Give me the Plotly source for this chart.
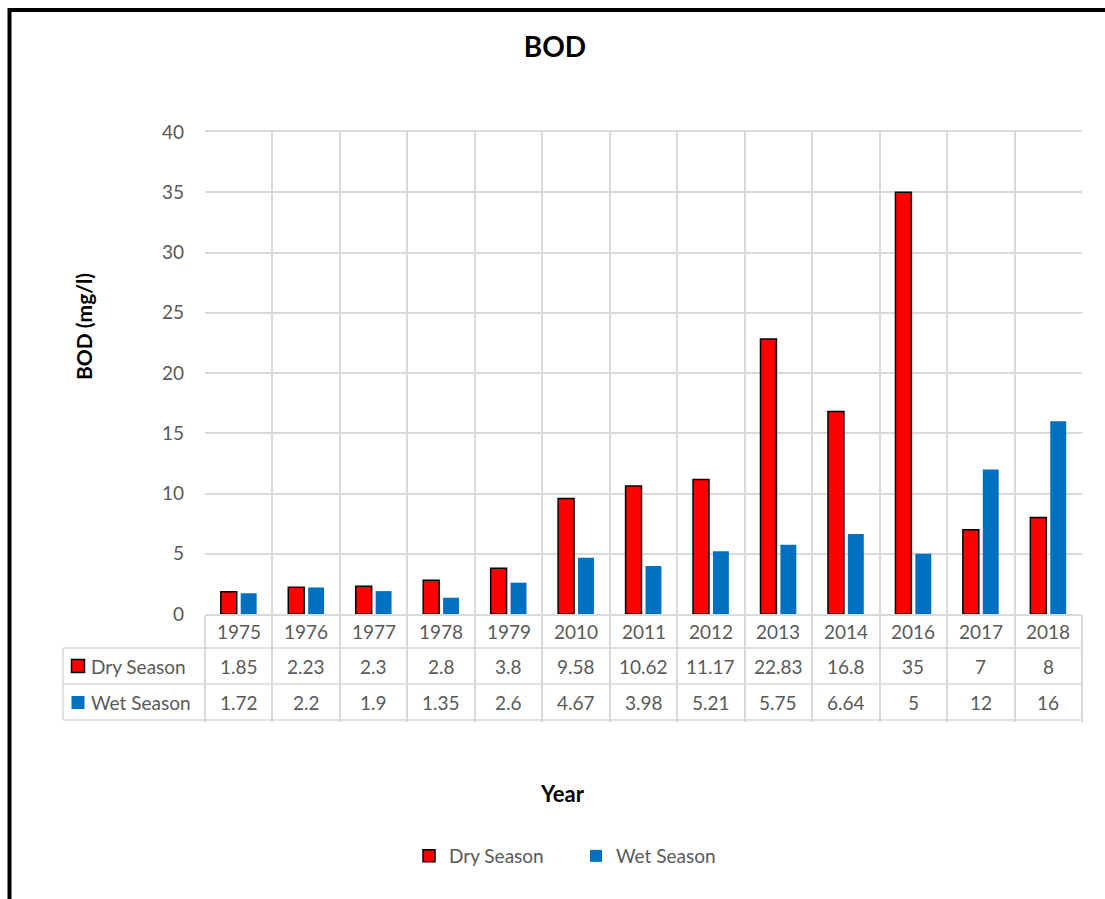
import plotly.graph_objects as go

years = ["1975", "1976", "1977", "1978", "1979", "2010", "2011", "2012", "2013", "2014", "2016", "2017", "2018"]
dry = [1.85, 2.23, 2.3, 2.8, 3.8, 9.58, 10.62, 11.17, 22.83, 16.8, 35, 7, 8]
wet = [1.72, 2.2, 1.9, 1.35, 2.6, 4.67, 3.98, 5.21, 5.75, 6.64, 5, 12, 16]
dry_label = [str(v) for v in dry]
wet_label = [str(v) for v in wet]

W, H = 1105, 899
L, R, T, B = 205, 1082, 132, 614
PW, PH = R - L, B - T

def px(x):
    return (x - L) / PW

def py(y):
    return (B - y) / PH

FONT = "Lato"
GREY = "#595959"
GRID = "#D9D9D9"
RED = "#FF0000"
BLUE = "#0070C0"

fig = go.Figure()
fig.add_trace(go.Bar(x=years, y=dry, name="Dry Season",
                     marker=dict(color=RED, line=dict(color="#000000", width=1.5))))
fig.add_trace(go.Bar(x=years, y=wet, name="Wet Season",
                     marker=dict(color=BLUE, line=dict(width=0))))

shapes = []
# outer frame
shapes.append(dict(type="rect", xref="paper", yref="paper",
                   x0=px(9.5), x1=px(1200), y0=py(1000), y1=py(10),
                   line=dict(color="#000000", width=4), fillcolor="rgba(0,0,0,0)", layer="above"))
# table horizontal lines
for yy in (648, 684, 720):
    shapes.append(dict(type="line", xref="paper", yref="paper",
                       x0=px(63), x1=px(R), y0=py(yy), y1=py(yy),
                       line=dict(color=GRID, width=1.5)))
shapes.append(dict(type="line", xref="paper", yref="paper",
                   x0=px(63), x1=px(63), y0=py(648), y1=py(720),
                   line=dict(color=GRID, width=1.5)))
# legend keys in table
shapes.append(dict(type="rect", xref="paper", yref="paper",
                   x0=px(71.5), x1=px(84.5), y0=py(672.5), y1=py(659.5),
                   fillcolor=RED, line=dict(color="#000000", width=1.5)))
shapes.append(dict(type="rect", xref="paper", yref="paper",
                   x0=px(71.5), x1=px(84.5), y0=py(709), y1=py(696),
                   fillcolor=BLUE, line=dict(width=0)))

annotations = []
tfont = dict(family=FONT, size=19, color=GREY)
for i, yr in enumerate(years):
    annotations.append(dict(x=i, y=py(631), xref="x", yref="paper", text=yr,
                            showarrow=False, font=tfont, xanchor="center", yanchor="middle"))
    annotations.append(dict(x=i, y=py(666), xref="x", yref="paper", text=dry_label[i],
                            showarrow=False, font=tfont, xanchor="center", yanchor="middle"))
    annotations.append(dict(x=i, y=py(702), xref="x", yref="paper", text=wet_label[i],
                            showarrow=False, font=tfont, xanchor="center", yanchor="middle"))
annotations.append(dict(x=px(89), y=py(666), xref="paper", yref="paper", text="Dry Season",
                        showarrow=False, font=tfont, xanchor="left", yanchor="middle"))
annotations.append(dict(x=px(89), y=py(702), xref="paper", yref="paper", text="Wet Season",
                        showarrow=False, font=tfont, xanchor="left", yanchor="middle"))
# axis titles
annotations.append(dict(x=px(83), y=py(327), xref="paper", yref="paper", text="<b>BOD (mg/l)</b>",
                        textangle=-90, showarrow=False,
                        font=dict(family=FONT, size=21, color="#000000"),
                        xanchor="center", yanchor="middle"))
annotations.append(dict(x=px(562), y=py(793), xref="paper", yref="paper", text="<b>Year</b>",
                        showarrow=False, font=dict(family=FONT, size=22, color="#000000"),
                        xanchor="center", yanchor="middle"))

fig.update_layout(
    width=W, height=H,
    margin=dict(l=L, r=W - R, t=T, b=H - B),
    paper_bgcolor="white", plot_bgcolor="white",
    title=dict(text="<b>BOD</b>", x=555 / W, xanchor="center", y=1 - 47 / H, yanchor="middle",
               yref="container", font=dict(family=FONT, size=28, color="#000000")),
    barmode="group", bargap=0.41, bargroupgap=0.2,
    font=dict(family=FONT, size=19, color=GREY),
    showlegend=True,
    legend=dict(orientation="h", x=px(576), xanchor="center", y=py(856), yanchor="middle",
                font=dict(family=FONT, size=19, color=GREY), entrywidth=122, traceorder="normal"),
    shapes=shapes,
    annotations=annotations,
)
fig.update_xaxes(type="category", range=[-0.5, len(years) - 0.5], tickson="boundaries",
                 showgrid=True, gridcolor=GRID, gridwidth=1.5,
                 ticks="outside", ticklen=106, tickcolor=GRID, tickwidth=1.5,
                 showticklabels=False, showline=True, linecolor=GRID, linewidth=1.5, mirror=True)
fig.update_yaxes(range=[0, 40], dtick=5, showgrid=True, gridcolor=GRID, gridwidth=1.5,
                 zeroline=False, showline=False, ticks="", ticklabelstandoff=20,
                 tickfont=dict(family=FONT, size=19, color=GREY))

fig.write_html("out.html")
